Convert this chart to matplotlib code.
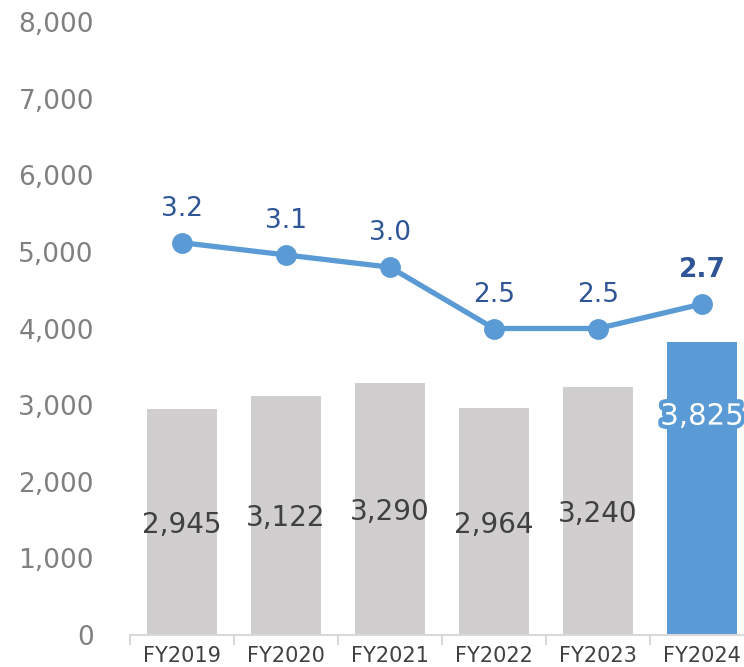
import matplotlib.pyplot as plt
import matplotlib.patheffects as pe
import numpy as np

years = ["FY2019", "FY2020", "FY2021", "FY2022", "FY2023", "FY2024"]
sales = [2945, 3122, 3290, 2964, 3240, 3825]
ratio = [3.2, 3.1, 3.0, 2.5, 2.5, 2.7]

gray = "#d0cece"
blue = "#5b9bd5"
dark_blue = "#2f5597"

fig = plt.figure(figsize=(7.44, 6.67), dpi=100)
ax = fig.add_axes([130 / 744, 32 / 667, 624 / 744, 613 / 667])

x = np.arange(len(years))
colors = [gray] * 5 + [blue]
bars = ax.bar(x, sales, width=0.67, color=colors, zorder=2)

ax.set_xlim(-0.5, 5.5)
ax.set_ylim(0, 8000)
ax.set_yticks(range(0, 8001, 1000))
ax.set_yticklabels([f"{v:,}" for v in range(0, 8001, 1000)], fontsize=19, color="#808080")
ax.tick_params(axis="y", length=0, pad=26)
ax.set_xticks(x)
ax.set_xticklabels(years, fontsize=15, color="#404040")
ax.set_xticks(np.arange(-0.5, 6, 1), minor=True)
ax.tick_params(axis="x", which="major", length=0, pad=8)
ax.tick_params(axis="x", which="minor", length=7, color="#d9d9d9", width=1.5)
for s in ["top", "right", "left"]:
    ax.spines[s].set_visible(False)
ax.spines["bottom"].set_color("#d9d9d9")
ax.spines["bottom"].set_linewidth(1.5)

# bar labels
for i, v in enumerate(sales[:5]):
    ax.text(i, v / 2 - 40, f"{v:,}", ha="center", va="center", fontsize=20, color="#404040", zorder=3)
t = ax.text(5, 2850, f"{sales[5]:,}", ha="center", va="center", fontsize=21, color="white", zorder=3)
t.set_path_effects([pe.withStroke(linewidth=6, foreground=blue)])

# line on hidden secondary axis
ax2 = ax.twinx()
ax2.set_ylim(0, 5)
ax2.axis("off")
ax2.plot(x, ratio, color=blue, lw=3.8, marker="o", markersize=14, zorder=4)
for i, r in enumerate(ratio):
    ax2.annotate(f"{r:.1f}", (i, r), xytext=(0, 15), textcoords="offset points",
                 ha="center", va="bottom", fontsize=19, color=dark_blue,
                 fontweight="bold" if i == 5 else "normal")

fig.savefig("out.png", dpi=100)
